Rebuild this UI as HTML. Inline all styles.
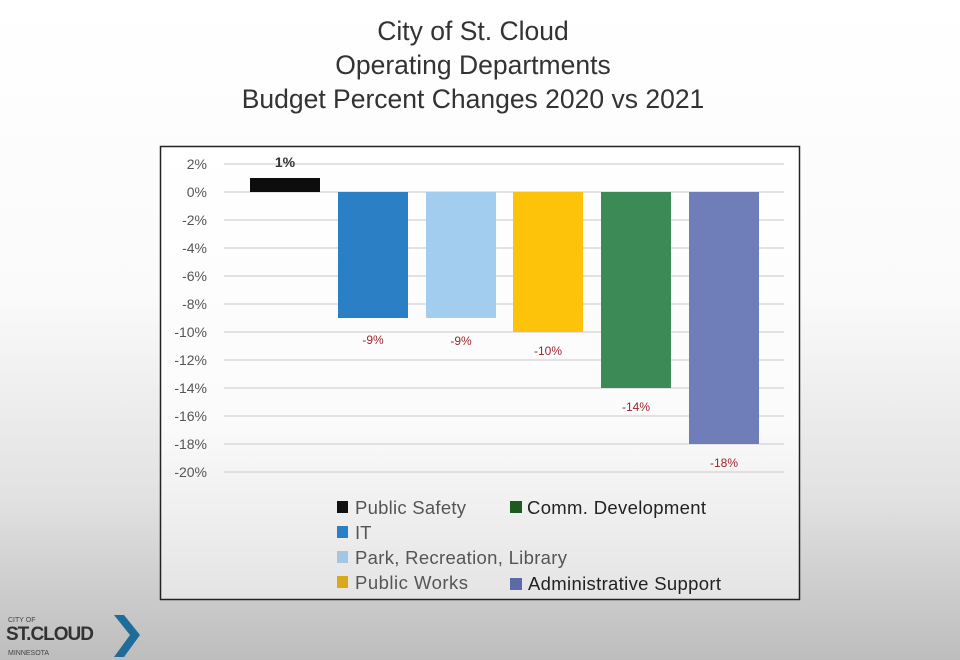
<!DOCTYPE html>
<html><head><style>
body{margin:0;width:960px;height:660px;overflow:hidden;background:linear-gradient(#ffffff 0%,#fafafa 45%,#e2e2e2 75%,#bdbdbd 100%);font-family:"Liberation Sans",sans-serif;}
</style></head><body>
<svg width="960" height="660" style="position:absolute;left:0;top:0">
<defs><linearGradient id="g" x1="0" y1="0" x2="0" y2="1"><stop offset="0" stop-color="#fff"/><stop offset="0.6" stop-color="#fbfbfb"/><stop offset="1" stop-color="#e4e4e4"/></linearGradient></defs>
<g font-size="26.5" fill="#333" text-anchor="middle">
<text x="473" y="40">City of St. Cloud</text>
<text x="473" y="74">Operating Departments</text>
<text x="473" y="108">Budget Percent Changes 2020 vs 2021</text>
</g>
<rect x="160.5" y="146.5" width="639" height="453" fill="url(#g)" stroke="#222" stroke-width="1.5"/>
<g stroke="#d9d9d9" stroke-width="1.5">
<line x1="224" x2="784" y1="164" y2="164"/><line x1="224" x2="784" y1="192" y2="192"/><line x1="224" x2="784" y1="220" y2="220"/><line x1="224" x2="784" y1="248" y2="248"/><line x1="224" x2="784" y1="276" y2="276"/><line x1="224" x2="784" y1="304" y2="304"/><line x1="224" x2="784" y1="332" y2="332"/><line x1="224" x2="784" y1="360" y2="360"/><line x1="224" x2="784" y1="388" y2="388"/><line x1="224" x2="784" y1="416" y2="416"/><line x1="224" x2="784" y1="444" y2="444"/><line x1="224" x2="784" y1="472" y2="472"/>
</g>
<g font-size="14" fill="#555" text-anchor="end">
<text x="207" y="169">2%</text><text x="207" y="197">0%</text><text x="207" y="225">-2%</text><text x="207" y="253">-4%</text><text x="207" y="281">-6%</text><text x="207" y="309">-8%</text><text x="207" y="337">-10%</text><text x="207" y="365">-12%</text><text x="207" y="393">-14%</text><text x="207" y="421">-16%</text><text x="207" y="449">-18%</text><text x="207" y="477">-20%</text>
</g>
<rect x="250" y="178" width="70" height="14" fill="#0d0d0d"/>
<rect x="338" y="192" width="70" height="126" fill="#2a7fc5"/>
<rect x="426" y="192" width="70" height="126" fill="#a3cdee"/>
<rect x="513" y="192" width="70" height="140" fill="#fdc20a"/>
<rect x="601" y="192" width="70" height="196" fill="#3c8a55"/>
<rect x="689" y="192" width="70" height="252" fill="#6f7eb9"/>
<text x="285" y="167" font-size="14" font-weight="bold" fill="#333" text-anchor="middle">1%</text>
<g font-size="12" fill="#a0262d" text-anchor="middle">
<text x="373" y="344">-9%</text><text x="461" y="345">-9%</text><text x="548" y="355">-10%</text><text x="636" y="411">-14%</text><text x="724" y="467">-18%</text>
</g>
<g font-size="18.5" fill="#555">
<rect x="337" y="501" width="11" height="12" fill="#111"/><text x="355" y="514" textLength="111">Public Safety</text>
<rect x="337" y="526" width="11" height="12" fill="#2a7fc5"/><text x="355" y="539">IT</text>
<rect x="337" y="551" width="11" height="12" fill="#a3c6e2"/><text x="355" y="564" textLength="212">Park, Recreation, Library</text>
<rect x="337" y="576" width="11" height="12" fill="#d9a91a"/><text x="355" y="589" textLength="113">Public Works</text>
</g>
<g font-size="18.5" fill="#222">
<rect x="510" y="501" width="12" height="12" fill="#1e5a1e"/><text x="527" y="514" textLength="179">Comm. Development</text>
<rect x="510" y="578" width="12" height="12" fill="#5d6aa8"/><text x="528" y="590" textLength="193">Administrative Support</text>
</g>
<text x="8" y="622" font-size="7" fill="#444">CITY OF</text>
<text x="6" y="640" font-size="19" font-weight="bold" fill="#333" letter-spacing="-1">ST.CLOUD</text>
<text x="8" y="655" font-size="7" fill="#444">MINNESOTA</text>
<polygon points="114,615 124,615 140,635 124,657 114,657 130,635" fill="#1f6b99"/>
</svg>
</body></html>
